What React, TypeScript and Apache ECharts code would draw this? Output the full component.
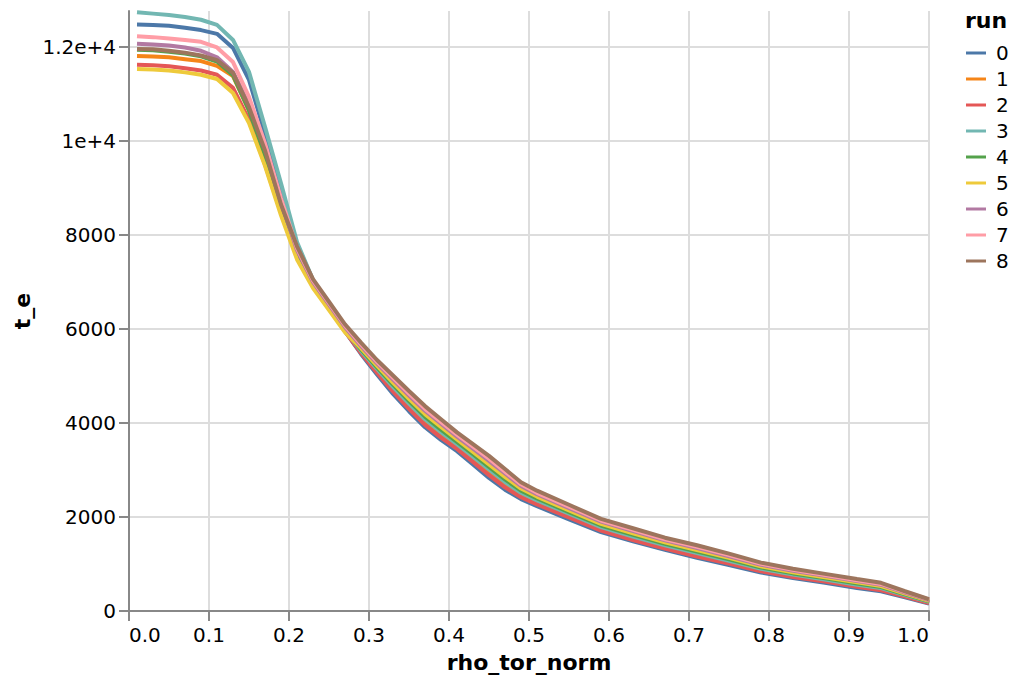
import React, { useEffect, useRef } from "react";
import * as echarts from "echarts";

const RHO = [
  0.01, 0.03, 0.05, 0.07, 0.09, 0.11, 0.13, 0.15, 0.17, 0.19,
  0.21, 0.23, 0.25, 0.27,
  0.29, 0.31, 0.33, 0.35, 0.37, 0.39, 0.41, 0.43, 0.45, 0.47, 0.49, 0.51,
  0.55, 0.59, 0.63, 0.67, 0.71, 0.75, 0.79, 0.83, 0.87, 0.91,
  0.94, 0.97, 1.0,
];

const RUN_0 = [
  12480, 12470, 12450, 12410, 12360, 12280, 11980, 11300, 10150, 8900,
  7800, 7030, 6480, 5950,
  5470, 5030, 4620, 4250, 3910, 3640, 3400, 3120, 2830, 2580, 2380, 2230,
  1950, 1680, 1480, 1300, 1130, 980, 820, 700, 600, 490,
  420, 290, 160,
];
const RUN_1 = [
  11810, 11800, 11780, 11740, 11700, 11600, 11380, 10650, 9650, 8520,
  7600, 6960, 6460, 5960,
  5515, 5115, 4730, 4370, 4035, 3765, 3510, 3240, 2960, 2705, 2480, 2320,
  2035, 1760, 1560, 1375, 1205, 1045, 880, 755, 655, 545,
  470, 325, 185,
];
const RUN_2 = [
  11620, 11610, 11590, 11550, 11500, 11410, 11130, 10450, 9500, 8480,
  7620, 6980, 6460, 5950,
  5490, 5070, 4670, 4300, 3960, 3690, 3450, 3170, 2890, 2630, 2420, 2270,
  1990, 1710, 1510, 1330, 1160, 1010, 845, 725, 625, 515,
  440, 305, 170,
];
const RUN_3 = [
  12740, 12710, 12680, 12640, 12580, 12470, 12150, 11470, 10300, 9100,
  7850, 7040, 6500, 5980,
  5535, 5150, 4770, 4415, 4080, 3805, 3550, 3285, 3010, 2745, 2515, 2355,
  2070, 1785, 1585, 1400, 1235, 1070, 900, 775, 670, 560,
  490, 340, 195,
];
const RUN_4 = [
  11940, 11930, 11900, 11860, 11800, 11690, 11400, 10650, 9700, 8530,
  7580, 6940, 6450, 5980,
  5565, 5185, 4815, 4465, 4135, 3860, 3600, 3335, 3065, 2800, 2560, 2395,
  2105, 1820, 1620, 1430, 1265, 1100, 925, 800, 695, 585,
  510, 355, 205,
];
const RUN_5 = [
  11530, 11520, 11500, 11460, 11410, 11320, 11020, 10380, 9470, 8420,
  7480, 6870, 6400, 5930,
  5595, 5220, 4860, 4515, 4190, 3915, 3650, 3385, 3120, 2855, 2605, 2435,
  2140, 1855, 1655, 1460, 1295, 1130, 950, 825, 720, 610,
  530, 370, 215,
];
const RUN_6 = [
  12070, 12055, 12030, 11990, 11920, 11780, 11470, 10780, 9850, 8700,
  7680, 7000, 6520, 6040,
  5640, 5270, 4925, 4585, 4260, 3985, 3710, 3455, 3195, 2925, 2660, 2485,
  2190, 1900, 1700, 1505, 1340, 1165, 985, 855, 750, 640,
  560, 390, 230,
];
const RUN_7 = [
  12230, 12210, 12180, 12150, 12110, 11990, 11680, 10940, 9950, 8780,
  7720, 7030, 6550, 6070,
  5670, 5300, 4960, 4625, 4300, 4025, 3750, 3495, 3240, 2965, 2695, 2515,
  2220, 1925, 1725, 1525, 1365, 1190, 1005, 875, 765, 655,
  575, 405, 240,
];
const RUN_8 = [
  11960, 11950, 11920, 11880, 11820, 11720, 11450, 10720, 9800, 8650,
  7760, 7060, 6580, 6100,
  5710, 5340, 5010, 4680, 4360, 4080, 3800, 3550, 3300, 3020, 2740, 2560,
  2260, 1960, 1760, 1560, 1400, 1220, 1030, 900, 790, 680,
  600, 420, 250,
];

const RUN_NAMES = ["0", "1", "2", "3", "4", "5", "6", "7", "8"];
const RUN_VALUES = [RUN_0, RUN_1, RUN_2, RUN_3, RUN_4, RUN_5, RUN_6, RUN_7, RUN_8];
const COLORS = [
  "#4c78a8", "#f58518", "#e45756", "#72b7b2", "#54a24b",
  "#eeca3b", "#b279a2", "#ff9da6", "#9d755d",
];
const Y_TICKS = [0, 2000, 4000, 6000, 8000, 10000, 12000];
const Y_MAX = 12766;
const X_TITLE = "rho_tor_norm";
const Y_TITLE = "t_e";
const LEGEND_TITLE = "run";

const FONT = "DejaVu Sans";

export default function App() {
  const ref = useRef<HTMLDivElement>(null);
  useEffect(() => {
    if (!ref.current) return;
    const chart = echarts.init(ref.current, null, { renderer: "svg" });
    const series = RUN_NAMES.map((name, i) => ({
      name,
      type: "line",
      symbol: "none",
      data: RHO.map((r, j) => [r, RUN_VALUES[i][j]]),
      lineStyle: { width: 4, color: COLORS[i] },
      itemStyle: { color: COLORS[i] },
      z: 2 + i * 0.01,
    }));
    chart.setOption({
      animation: false,
      backgroundColor: "#fff",
      textStyle: { fontFamily: FONT },
      grid: { left: 129, top: 11, width: 800, height: 600 },
      xAxis: {
        type: "value",
        min: 0,
        max: 1,
        interval: 0.1,
        axisLine: { lineStyle: { color: "#888", width: 2 } },
        axisTick: { length: 10, lineStyle: { color: "#888", width: 2 } },
        axisLabel: {
          color: "#000",
          fontSize: 20,
          fontFamily: FONT,
          margin: 14,
          alignMinLabel: "left",
          alignMaxLabel: "right",
          formatter: (v: number) => v.toFixed(1),
        },
        splitLine: { show: true, lineStyle: { color: "#ddd", width: 2 } },
      },
      yAxis: {
        type: "value",
        min: 0,
        max: Y_MAX,
        interval: 2000,
        axisLine: { show: true, lineStyle: { color: "#888", width: 2 } },
        axisTick: {
          show: true,
          length: 10,
          lineStyle: { color: "#888", width: 2 },
          customValues: Y_TICKS,
        },
        axisLabel: {
          color: "#000",
          fontSize: 20,
          fontFamily: FONT,
          margin: 13,
          customValues: Y_TICKS,
          formatter: (v: number) => (v >= 10000 ? `${v / 10000}e+4` : String(v)),
        },
        splitLine: {
          show: true,
          lineStyle: { color: "#ddd", width: 2 },
        },
      },
      legend: {
        orient: "vertical",
        left: 966,
        top: 43,
        icon: "rect",
        itemWidth: 20,
        itemHeight: 3,
        itemGap: 6,
        padding: 0,
        data: RUN_NAMES,
        textStyle: {
          color: "#000",
          fontSize: 20,
          lineHeight: 20,
          fontFamily: FONT,
          padding: [0, 0, 0, 5],
        },
      },
      graphic: [
        {
          type: "text",
          x: 965,
          y: 20,
          style: {
            text: LEGEND_TITLE,
            font: `bold 22px "${FONT}"`,
            fill: "#000",
            align: "left",
            verticalAlign: "middle",
          },
        },
        {
          type: "text",
          x: 529,
          y: 662,
          style: {
            text: X_TITLE,
            font: `bold 22px "${FONT}"`,
            fill: "#000",
            align: "center",
            verticalAlign: "middle",
          },
        },
        {
          type: "text",
          x: 22,
          y: 311,
          rotation: Math.PI / 2,
          style: {
            text: Y_TITLE,
            font: `bold 22px "${FONT}"`,
            fill: "#000",
            align: "center",
            verticalAlign: "middle",
          },
        },
      ],
      series,
    });
    return () => chart.dispose();
  }, []);
  return (
    <div
      ref={ref}
      style={{ position: "fixed", left: 0, top: 0, width: 1020, height: 684, background: "#fff" }}
    />
  );
}
